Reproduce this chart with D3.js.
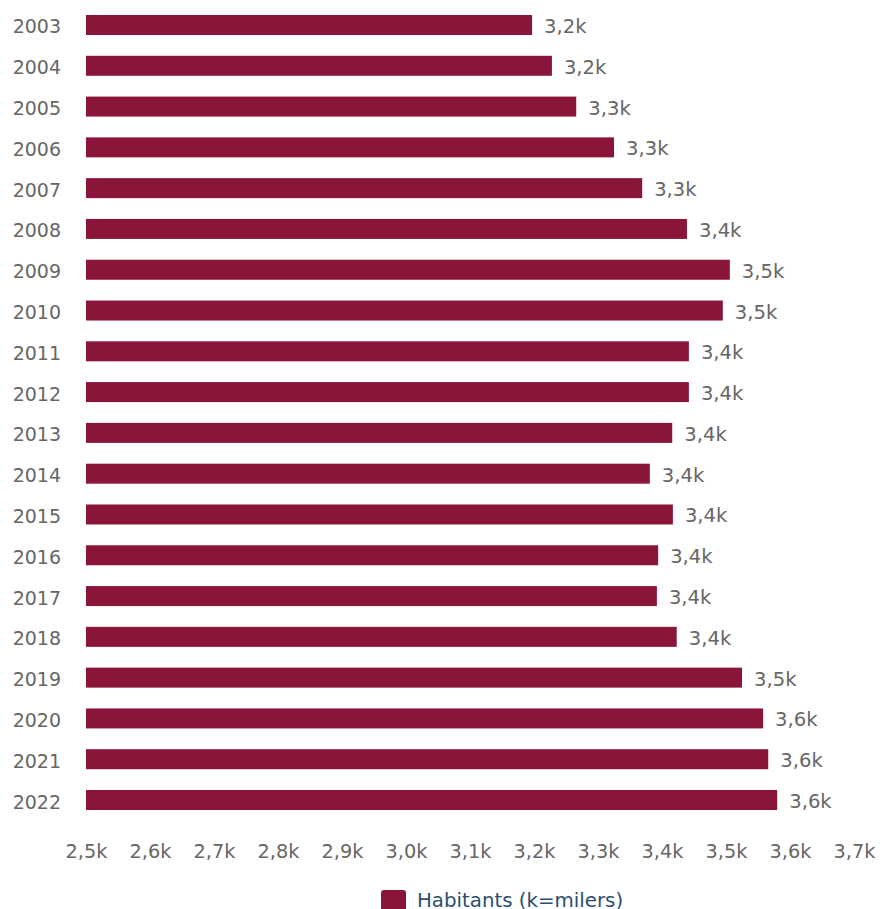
<!DOCTYPE html>
<html>
<head>
<meta charset="utf-8">
<script src="https://cdn.jsdelivr.net/npm/d3@7"></script>
<style>
  html, body { margin: 0; padding: 0; background: #fff; }
  svg { display: block; }
  text { font-family: "DejaVu Sans", Verdana, sans-serif; }
</style>
</head>
<body>
<svg id="chart" width="880" height="909"></svg>
<script>
const years = ["2003","2004","2005","2006","2007","2008","2009","2010","2011","2012",
               "2013","2014","2015","2016","2017","2018","2019","2020","2021","2022"];
const habitants = [3197, 3228, 3266, 3325, 3369, 3439, 3506, 3495, 3442, 3442,
                   3416, 3381, 3417, 3394, 3392, 3423, 3525, 3558, 3566, 3580];
const valueLabels = ["3,2k","3,2k","3,3k","3,3k","3,3k","3,4k","3,5k","3,5k","3,4k","3,4k",
                     "3,4k","3,4k","3,4k","3,4k","3,4k","3,4k","3,5k","3,6k","3,6k","3,6k"];
const tickValues = [2500, 2600, 2700, 2800, 2900, 3000, 3100, 3200, 3300, 3400, 3500, 3600, 3700];
const tickLabels = ["2,5k","2,6k","2,7k","2,8k","2,9k","3,0k","3,1k","3,2k","3,3k","3,4k","3,5k","3,6k","3,7k"];
const seriesName = "Habitants (k=milers)";

const barColor = "#8a1538";
const textColor = "#666666";
const legendColor = "#2d4e70";

const svg = d3.select("#chart");

const x = d3.scaleLinear().domain([2500, 3700]).range([86, 854]);
const y = d3.scaleBand().domain(years).range([4.6, 820.4]).paddingInner(0.51).paddingOuter(0.255);

// bars
svg.append("g").selectAll("rect")
  .data(years)
  .join("rect")
  .attr("x", x(2500))
  .attr("y", d => y(d))
  .attr("width", (d, i) => x(habitants[i]) - x(2500))
  .attr("height", y.bandwidth())
  .attr("fill", barColor);

// value labels
svg.append("g").selectAll("text")
  .data(years)
  .join("text")
  .attr("x", (d, i) => x(habitants[i]) + 12)
  .attr("y", d => y(d) + y.bandwidth() / 2 + 8)
  .attr("fill", textColor)
  .attr("font-size", 19.6)
  .text((d, i) => valueLabels[i]);

// y axis (year labels)
const yAxis = d3.axisLeft(y).tickSize(0).tickPadding(0);
const gy = svg.append("g").attr("transform", "translate(61,0)").call(yAxis);
gy.select(".domain").remove();
gy.selectAll("text")
  .attr("fill", textColor)
  .attr("font-size", 19)
  .attr("font-family", "DejaVu Sans, Verdana, sans-serif")
  .attr("dy", null)
  .attr("y", 8.5);

// x axis
const xAxis = d3.axisBottom(x).tickValues(tickValues)
  .tickFormat((d, i) => tickLabels[i]).tickSize(0).tickPadding(0);
const gx = svg.append("g").attr("transform", "translate(0,858)").call(xAxis);
gx.select(".domain").remove();
gx.selectAll("text")
  .attr("fill", textColor)
  .attr("font-size", 19.3)
  .attr("font-family", "DejaVu Sans, Verdana, sans-serif")
  .attr("dy", null)
  .attr("y", 0);

// legend
const lg = svg.append("g");
lg.append("rect")
  .attr("x", 381).attr("y", 890).attr("width", 25).attr("height", 22)
  .attr("rx", 3).attr("fill", barColor);
lg.append("text")
  .attr("x", 417).attr("y", 907)
  .attr("fill", legendColor)
  .attr("font-size", 19.8)
  .text(seriesName);
</script>
</body>
</html>
